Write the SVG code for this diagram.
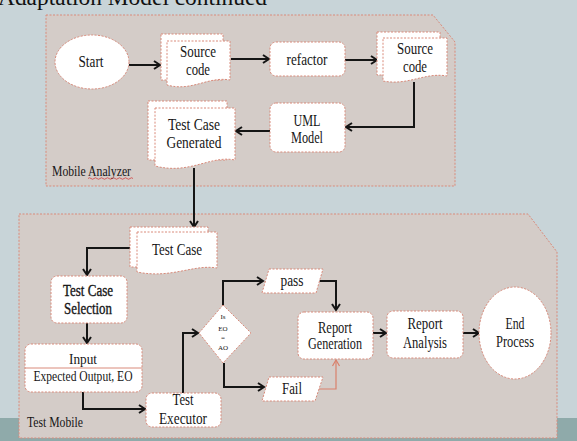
<svg xmlns="http://www.w3.org/2000/svg" width="577" height="441" viewBox="0 0 577 441">
<style>
.panel{fill:#d4ccc8;stroke:#d98a7a;stroke-width:1;stroke-dasharray:2 1.5}
.nd{fill:#ffffff;stroke:#d98a7a;stroke-width:1;stroke-dasharray:2 1.5}
.t{font-family:"Liberation Serif","Times New Roman",serif;font-size:16px;fill:#161616;text-anchor:middle}
.lb{font-family:"Liberation Serif","Times New Roman",serif;font-size:14px;fill:#161616}
.sm{font-family:"Liberation Serif","Times New Roman",serif;font-size:7px;fill:#161616;text-anchor:middle}
.c{fill:none;stroke:#151515;stroke-width:2}
.cr{fill:none;stroke:#d9806c;stroke-width:1.2}
</style>
<defs>
<marker id="ah" markerUnits="userSpaceOnUse" markerWidth="10" markerHeight="10" refX="8" refY="5" orient="auto">
<path d="M2,1 L8,5 L2,9" fill="none" stroke="#151515" stroke-width="2"/>
</marker>
<marker id="ahr" markerUnits="userSpaceOnUse" markerWidth="10" markerHeight="10" refX="8" refY="5" orient="auto">
<path d="M2,1.5 L8,5 L2,8.5" fill="none" stroke="#d9806c" stroke-width="1.2"/>
</marker>
</defs>
<rect x="0" y="0" width="577" height="441" fill="#c8d4d8"/>
<rect x="0" y="418" width="577" height="23" fill="#8faaaa"/>
<text x="-2" y="5" font-family="Liberation Serif, serif" font-size="24" fill="#111" textLength="269" lengthAdjust="spacingAndGlyphs">Adaptation Model continued</text>

<g id="panel-mobile-analyzer">
<polygon class="panel" points="46,15 433,15 455,42 455,186 46,186"/>
<text class="lb" x="52" y="176" textLength="79" lengthAdjust="spacingAndGlyphs">Mobile Analyzer</text>
<path d="M88,178.5 q1.5,-1.5 3,0 t3,0 t3,0 t3,0 t3,0 t3,0 t3,0 t3,0 t3,0 t3,0 t3,0 t3,0 t3,0 t3,0 t3,0" fill="none" stroke="#d04040" stroke-width="0.8"/>
</g>
<g id="panel-test-mobile">
<polygon class="panel" points="19,214 528,214 557,252 557,438 19,438"/>
<text class="lb" x="27" y="427" textLength="56" lengthAdjust="spacingAndGlyphs">Test Mobile</text>
</g>

<g id="connectors">
<path class="c" d="M129,65 H160" marker-end="url(#ah)"/>
<path class="c" d="M231,59 H269" marker-end="url(#ah)"/>
<path class="c" d="M345,60 H377" marker-end="url(#ah)"/>
<path class="c" d="M414,82 V127 H346" marker-end="url(#ah)"/>
<path class="c" d="M270,131 H236" marker-end="url(#ah)"/>
<path class="c" d="M194,168 V227" marker-end="url(#ah)"/>
<path class="c" d="M130,248 H87 V275" marker-end="url(#ah)"/>
<path class="c" d="M87,323 V343" marker-end="url(#ah)"/>
<path class="c" d="M83,392 V409 H145" marker-end="url(#ah)"/>
<path class="c" d="M183,393 V333 H198" marker-end="url(#ah)"/>
<path class="c" d="M223,305 V281 H263" marker-end="url(#ah)"/>
<path class="c" d="M319,281 H336 V310" marker-end="url(#ah)"/>
<path class="c" d="M224,363 V387 H264" marker-end="url(#ah)"/>
<path class="cr" d="M319,389 H336 V360" marker-end="url(#ahr)"/>
<path class="c" d="M373,333 H386" marker-end="url(#ah)"/>
<path class="c" d="M463,333 H479" marker-end="url(#ah)"/>
</g>

<g id="start">
<ellipse class="nd" cx="92" cy="62" rx="37" ry="27"/>
<text class="t" x="91" y="67" textLength="25" lengthAdjust="spacingAndGlyphs">Start</text>
</g>
<g id="source-code-1">
<rect class="nd" x="161" y="34" width="62" height="46"/>
<path class="nd" d="M167,41 H230 V80 C208,76 192,92 167,85 Z"/>
<text class="t" x="198" y="57" textLength="36" lengthAdjust="spacingAndGlyphs">Source</text>
<text class="t" x="198" y="75" textLength="24" lengthAdjust="spacingAndGlyphs">code</text>
</g>
<g id="refactor">
<rect class="nd" x="270" y="42" width="75" height="34" rx="6"/>
<text class="t" x="307" y="65" textLength="41" lengthAdjust="spacingAndGlyphs">refactor</text>
</g>
<g id="source-code-2">
<rect class="nd" x="377" y="32" width="63" height="43"/>
<path class="nd" d="M383,38 H447 V76 C425,72 408,86 383,81 Z"/>
<text class="t" x="415" y="54" textLength="36" lengthAdjust="spacingAndGlyphs">Source</text>
<text class="t" x="415" y="72" textLength="24" lengthAdjust="spacingAndGlyphs">code</text>
</g>
<g id="uml-model">
<rect class="nd" x="270" y="103" width="75" height="49" rx="6"/>
<text class="t" x="307" y="126" textLength="27" lengthAdjust="spacingAndGlyphs">UML</text>
<text class="t" x="307" y="143" textLength="32" lengthAdjust="spacingAndGlyphs">Model</text>
</g>
<g id="test-case-generated">
<rect class="nd" x="148" y="101" width="79" height="59"/>
<path class="nd" d="M155,108 H235 V160 C210,155 190,175 155,166 Z"/>
<text class="t" x="194" y="130" textLength="52" lengthAdjust="spacingAndGlyphs">Test Case</text>
<text class="t" x="194" y="148" textLength="55" lengthAdjust="spacingAndGlyphs">Generated</text>
</g>
<g id="test-case">
<rect class="nd" x="130" y="227" width="78" height="40"/>
<path class="nd" d="M137,232 H217 V268 C193,264 172,279 137,272 Z"/>
<text class="t" x="177" y="255" textLength="50" lengthAdjust="spacingAndGlyphs">Test  Case</text>
</g>
<g id="test-case-selection">
<rect class="nd" x="51" y="276" width="76" height="47" rx="6"/>
<text class="t" x="88" y="296" textLength="50" lengthAdjust="spacingAndGlyphs" style="stroke:#161616;stroke-width:0.35">Test Case</text>
<text class="t" x="88" y="314" textLength="48" lengthAdjust="spacingAndGlyphs" style="stroke:#161616;stroke-width:0.35">Selection</text>
</g>
<g id="input">
<rect class="nd" x="25" y="344" width="117" height="48" rx="6"/>
<line x1="25" y1="368" x2="142" y2="368" stroke="#d98a7a" stroke-width="1"/>
<text class="t" x="83" y="364" textLength="28" lengthAdjust="spacingAndGlyphs" style="font-size:15px">Input</text>
<text class="t" x="83" y="381" textLength="99" lengthAdjust="spacingAndGlyphs" style="font-size:14px">Expected Output, EO</text>
</g>
<g id="test-executor">
<rect class="nd" x="146" y="393" width="75" height="34" rx="6"/>
<text class="t" x="183" y="405" textLength="21" lengthAdjust="spacingAndGlyphs">Test</text>
<text class="t" x="183" y="424" textLength="48" lengthAdjust="spacingAndGlyphs">Executor</text>
</g>
<g id="decision">
<polygon class="nd" points="223,305 251,333 223,363 199,333"/>
<text class="sm" x="223" y="319">Is</text>
<text class="sm" x="223" y="331">EO</text>
<text class="sm" x="223" y="340">=</text>
<text class="sm" x="223" y="350">AO</text>
</g>
<g id="pass">
<polygon class="nd" points="269,269 323,269 316,293 262,293"/>
<text class="t" x="292" y="286" textLength="23" lengthAdjust="spacingAndGlyphs">pass</text>
</g>
<g id="fail">
<polygon class="nd" points="269,377 323,377 315,401 262,401"/>
<text class="t" x="292" y="394" textLength="20" lengthAdjust="spacingAndGlyphs">Fail</text>
</g>
<g id="report-generation">
<rect class="nd" x="298" y="312" width="75" height="47" rx="6"/>
<text class="t" x="335" y="333" textLength="34" lengthAdjust="spacingAndGlyphs">Report</text>
<text class="t" x="335" y="349" textLength="54" lengthAdjust="spacingAndGlyphs">Generation</text>
</g>
<g id="report-analysis">
<rect class="nd" x="387" y="311" width="76" height="47" rx="6"/>
<text class="t" x="425" y="329" textLength="35" lengthAdjust="spacingAndGlyphs">Report</text>
<text class="t" x="425" y="348" textLength="44" lengthAdjust="spacingAndGlyphs">Analysis</text>
</g>
<g id="end-process">
<ellipse class="nd" cx="515" cy="333" rx="36" ry="46"/>
<text class="t" x="515" y="329" textLength="19" lengthAdjust="spacingAndGlyphs">End</text>
<text class="t" x="515" y="347" textLength="38" lengthAdjust="spacingAndGlyphs">Process</text>
</g>
</svg>
